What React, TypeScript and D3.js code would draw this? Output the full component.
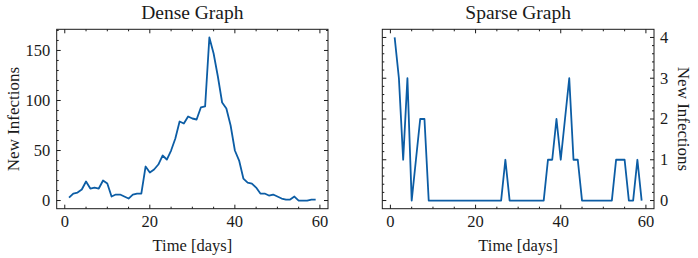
import * as d3 from "d3";
import React from "react";

// daily new infections, days 1..59
const days = d3.range(1, 60);
const denseValues = [
    3, 7, 8, 11, 19, 12, 13, 12, 20, 17,
    4, 6, 6, 4, 2, 6, 7, 7, 34, 28,
    31, 36, 45, 41, 50, 62, 79, 77, 84, 82,
    81, 93, 94, 163, 147, 124, 98, 92, 75, 50,
    40, 22, 18, 17, 13, 7, 7, 5, 6, 4,
    2, 1, 1, 4, 0, 0, 0, 1, 1,
];
const sparseValues = [
    4, 3, 1, 3, 0, 1, 2, 2, 0, 0,
    0, 0, 0, 0, 0, 0, 0, 0, 0, 0,
    0, 0, 0, 0, 0, 0, 1, 0, 0, 0,
    0, 0, 0, 0, 0, 0, 1, 1, 2, 1,
    2, 3, 1, 1, 0, 0, 0, 0, 0, 0,
    0, 0, 1, 1, 1, 0, 0, 1, 0,
];
const titles = ["Dense Graph", "Sparse Graph"];
const xLabel = "Time [days]";
const yLabel = "New Infections";
const xMajor = [0, 20, 40, 60];
const denseYMajor = [0, 50, 100, 150];
const sparseYMajor = [0, 1, 2, 3, 4];

const FONT = "'Liberation Serif', 'Times New Roman', serif";
const LINE = "#0C5DA5";
const INK = "#1a1a1a";

interface PanelProps {
    left: number;
    top: number;
    width: number;
    height: number;
    title: string;
    values: number[];
    yMajor: number[];
    yMinorStep: number;
    labelSide: "left" | "right";
}

function Panel(props: PanelProps) {
    const { left, top, width, height, values } = props;

    // matplotlib-like 5% margins
    const xExt = d3.extent(days) as [number, number];
    const xPad = (xExt[1] - xExt[0]) * 0.05;
    const yExt = d3.extent(values) as [number, number];
    const yPad = (yExt[1] - yExt[0]) * 0.05;

    const x = d3.scaleLinear().domain([xExt[0] - xPad, xExt[1] + xPad]).range([0, width]);
    const y = d3.scaleLinear().domain([yExt[0] - yPad, yExt[1] + yPad]).range([height, 0]);

    const line = d3.line<number>()
        .x((_, i) => x(days[i]))
        .y(d => y(d));

    const xMinor = d3.range(0, 61, 5).filter(v => xMajor.indexOf(v) < 0);
    const yTop = yExt[1] + yPad;
    const yMinor = d3.range(0, yTop, props.yMinorStep)
        .map(v => +v.toFixed(4))
        .filter(v => props.yMajor.indexOf(v) < 0 && y(v) >= 0);

    const major = 4;
    const minor = 2;

    return (
        <g transform={`translate(${left},${top})`}>
            <text x={width / 2} y={-10} textAnchor="middle" fontSize={19.5} fontFamily={FONT} fill={INK}>
                {props.title}
            </text>

            <path d={line(values) || ""} fill="none" stroke={LINE} strokeWidth={1.8} strokeLinejoin="round" />

            {/* x ticks, bottom and top, pointing in */}
            {xMajor.map(v => (
                <g key={"xm" + v}>
                    <line x1={x(v)} x2={x(v)} y1={height} y2={height - major} stroke={INK} />
                    <line x1={x(v)} x2={x(v)} y1={0} y2={major} stroke={INK} />
                    <text x={x(v)} y={height + 18.5} textAnchor="middle" fontSize={16.5} fontFamily={FONT} fill={INK}>
                        {v}
                    </text>
                </g>
            ))}
            {xMinor.map(v => (
                <g key={"xn" + v}>
                    <line x1={x(v)} x2={x(v)} y1={height} y2={height - minor} stroke={INK} />
                    <line x1={x(v)} x2={x(v)} y1={0} y2={minor} stroke={INK} />
                </g>
            ))}

            {/* y ticks, left and right */}
            {props.yMajor.map(v => (
                <g key={"ym" + v}>
                    <line x1={0} x2={major} y1={y(v)} y2={y(v)} stroke={INK} />
                    <line x1={width} x2={width - major} y1={y(v)} y2={y(v)} stroke={INK} />
                    {props.labelSide === "left" ? (
                        <text x={-6.5} y={y(v) + 5.5} textAnchor="end" fontSize={16.5} fontFamily={FONT} fill={INK}>{v}</text>
                    ) : (
                        <text x={width + 6} y={y(v) + 5.5} textAnchor="start" fontSize={16.5} fontFamily={FONT} fill={INK}>{v}</text>
                    )}
                </g>
            ))}
            {yMinor.map(v => (
                <g key={"yn" + v}>
                    <line x1={0} x2={minor} y1={y(v)} y2={y(v)} stroke={INK} />
                    <line x1={width} x2={width - minor} y1={y(v)} y2={y(v)} stroke={INK} />
                </g>
            ))}

            <rect x={0} y={0} width={width} height={height} fill="none" stroke={INK} strokeWidth={1} />

            <text x={width / 2} y={height + 42} textAnchor="middle" fontSize={16.5} fontFamily={FONT} fill={INK}>
                {xLabel}
            </text>
            {props.labelSide === "left" ? (
                <text transform={`translate(${-38},${height / 2}) rotate(-90)`} textAnchor="middle"
                    fontSize={17} fontFamily={FONT} fill={INK}>{yLabel}</text>
            ) : (
                <text transform={`translate(${width + 24},${height / 2}) rotate(90)`} textAnchor="middle"
                    fontSize={17} fontFamily={FONT} fill={INK}>{yLabel}</text>
            )}
        </g>
    );
}

export default function App() {
    const w = 698;
    const h = 258;
    const top = 29.3;
    const ph = 179.4;
    return (
        <svg width={w} height={h} style={{ position: "absolute", left: 0, top: 0, background: "#fff" }}>
            <Panel left={56.7} top={top} width={271.3} height={ph} title={titles[0]}
                values={denseValues} yMajor={denseYMajor} yMinorStep={10} labelSide="left" />
            <Panel left={382.3} top={top} width={271.7} height={ph} title={titles[1]}
                values={sparseValues} yMajor={sparseYMajor} yMinorStep={0.2} labelSide="right" />
        </svg>
    );
}
